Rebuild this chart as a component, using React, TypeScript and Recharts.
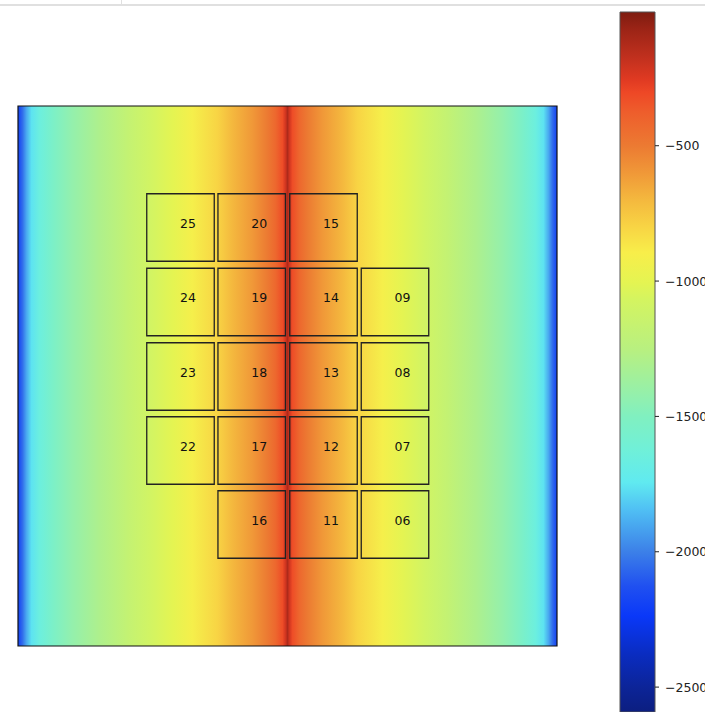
import React from "react";
import {
  ComposedChart,
  XAxis,
  YAxis,
  ReferenceArea,
  Scatter,
} from "recharts";

// horizontal profile of the field (x position, value)
const profileX = [
  -269.5, -265, -261, -256, -248, -235, -215, -188, -160, -138, -115, -95, -70,
  -55, -35, -20, -12, -5, -2, 0, 2, 5, 12, 20, 35, 55, 70, 95, 115, 138, 160,
  188, 215, 235, 248, 256, 261, 265, 269.5,
];
const profileVal = [
  -2200, -2050, -1900, -1760, -1650, -1540, -1420, -1300, -1180, -1090, -1006,
  -910, -800, -700, -600, -500, -420, -320, -220, -120, -220, -320, -420, -500,
  -600, -700, -800, -910, -1006, -1090, -1180, -1300, -1420, -1540, -1650,
  -1760, -1900, -2050, -2200,
];

// colour scale as drawn in the colour bar
const cmapValues = [
  -6, -70, -172, -256, -304, -378, -500, -600, -699, -799, -895, -1006, -1068,
  -1253, -1437, -1500, -1622, -1744, -1843, -2000, -2127, -2238, -2380, -2500,
  -2592,
];
const cmapColors = [
  "#7e1c10", "#9c2416", "#c0301e", "#e03a22", "#ee4826", "#ee5e2c", "#ec7a32",
  "#f09838", "#f4b83e", "#f8d444", "#f8ee4a", "#e4f452", "#d4f460", "#b8f080",
  "#90f0b0", "#80f0c0", "#70f0d8", "#60eaf0", "#50c0f4", "#3c80e8", "#2050f0",
  "#0a38f8", "#0a2cc0", "#0c2498", "#0c1e80",
];
const vMin = -2592;
const vMax = -6;
const cbarTicks = [-2500, -2000, -1500, -1000, -500];

// square grid (top row first)
const rowY = [148.5, 74, -0.5, -74.5, -148.5];
const colX = [-107, -35.8, 36, 107.5];
const squareLabels = [
  ["25", "20", "15", null],
  ["24", "19", "14", "09"],
  ["23", "18", "13", "08"],
  ["22", "17", "12", "07"],
  [null, "16", "11", "06"],
];
const half = 33.75;

const hex = (c: string) => [1, 3, 5].map((i) => parseInt(c.slice(i, i + 2), 16));

function colorFor(v: number) {
  for (let i = 0; i < cmapValues.length - 1; i++) {
    const a = cmapValues[i];
    const b = cmapValues[i + 1];
    if (v <= a && v >= b) {
      const t = (a - v) / (a - b);
      const ca = hex(cmapColors[i]);
      const cb = hex(cmapColors[i + 1]);
      const m = ca.map((x, k) => Math.round(x + (cb[k] - x) * t));
      return `rgb(${m[0]},${m[1]},${m[2]})`;
    }
  }
  return v > vMax ? cmapColors[0] : cmapColors[cmapColors.length - 1];
}

const squares = squareLabels.flatMap((row, r) =>
  row
    .map((label, c) => (label ? { label, x: colX[c], y: rowY[r] } : null))
    .filter(Boolean) as { label: string; x: number; y: number }[]
);

const font = "'DejaVu Sans', sans-serif";

export default function App() {
  return (
    <div
      style={{
        position: "absolute",
        left: 0,
        top: 0,
        width: 705,
        height: 712,
        background: "#fff",
        overflow: "hidden",
      }}
    >
      <div
        style={{
          position: "absolute",
          left: 0,
          top: 4,
          width: 705,
          height: 2,
          background: "#e0e0e0",
        }}
      />
      <div
        style={{
          position: "absolute",
          left: 121,
          top: 0,
          width: 1,
          height: 5,
          background: "#e0e0e0",
        }}
      />

      <div style={{ position: "absolute", left: 0, top: 0 }}>
        <ComposedChart
          width={575}
          height={660}
          data={squares}
          margin={{ top: 106, left: 18, right: 18, bottom: 14 }}
        >
          <defs>
            <linearGradient id="heat" x1="0" y1="0" x2="1" y2="0">
              {profileX.map((x, i) => (
                <stop
                  key={i}
                  offset={(x + 269.5) / 539}
                  stopColor={colorFor(profileVal[i])}
                />
              ))}
            </linearGradient>
          </defs>
          <XAxis type="number" dataKey="x" domain={[-269.5, 269.5]} hide allowDataOverflow />
          <YAxis type="number" dataKey="y" domain={[-270, 270]} hide allowDataOverflow />
          <ReferenceArea
            x1={-269.5}
            x2={269.5}
            y1={-270}
            y2={270}
            fill="url(#heat)"
            fillOpacity={1}
            stroke="#111"
            strokeWidth={1.2}
          />
          {squares.map((s) => (
            <ReferenceArea
              key={s.label}
              x1={s.x - half}
              x2={s.x + half}
              y1={s.y - half}
              y2={s.y + half}
              fill="none"
              stroke="#222"
              strokeWidth={1.3}
            />
          ))}
          <Scatter
            data={squares}
            isAnimationActive={false}
            shape={(p: any) => (
              <text
                x={p.cx + 7.5}
                y={p.cy - 4.5}
                textAnchor="middle"
                dominantBaseline="central"
                fontSize={12.5}
                fontFamily={font}
                fill="#111"
              >
                {p.payload.label}
              </text>
            )}
          />
        </ComposedChart>
      </div>

      <div style={{ position: "absolute", left: 600, top: 0 }}>
        <ComposedChart
          width={105}
          height={712}
          data={[{ x: 0.5, v: -1000 }]}
          margin={{ top: 12, right: 0, bottom: 0, left: 20 }}
        >
          <defs>
            <linearGradient id="cbar" x1="0" y1="0" x2="0" y2="1">
              {cmapValues.map((v, i) => (
                <stop
                  key={i}
                  offset={(vMax - v) / (vMax - vMin)}
                  stopColor={cmapColors[i]}
                />
              ))}
            </linearGradient>
          </defs>
          <XAxis type="number" dataKey="x" domain={[0, 1]} hide allowDataOverflow />
          <YAxis
            type="number"
            dataKey="v"
            orientation="right"
            width={50}
            domain={[vMin, vMax]}
            ticks={cbarTicks}
            allowDataOverflow
            axisLine={false}
            tickSize={4}
            tickMargin={6}
            tickLine={{ stroke: "#222" }}
            tick={{ fontSize: 12.5, fill: "#222", fontFamily: font }}
            tickFormatter={(v: number) => "\u2212" + Math.abs(v)}
          />
          <ReferenceArea
            x1={0}
            x2={1}
            y1={vMin}
            y2={vMax}
            fill="url(#cbar)"
            fillOpacity={1}
            stroke="#555"
            strokeWidth={1}
          />
        </ComposedChart>
      </div>
    </div>
  );
}
